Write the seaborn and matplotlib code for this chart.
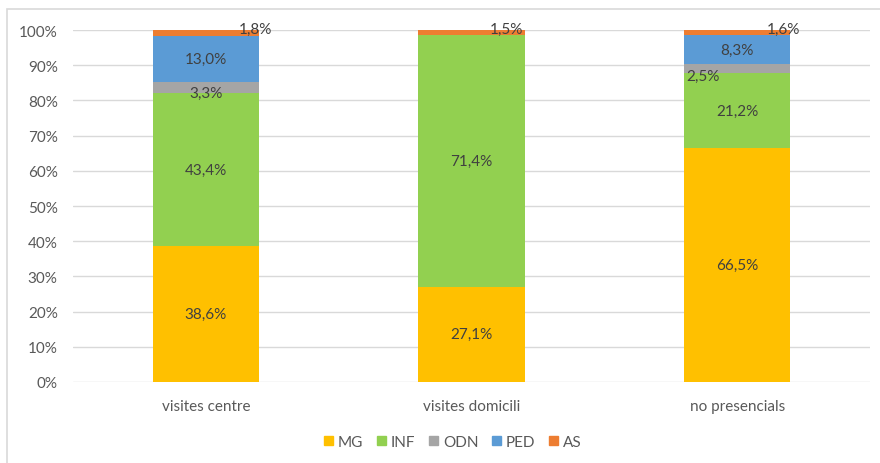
import numpy as np
import pandas as pd
import matplotlib
matplotlib.use("Agg")
import matplotlib.pyplot as plt
import seaborn as sns
from matplotlib.patches import Rectangle

# Dades (percentatges)
categories = ["visites centre", "visites domicili", "no presencials"]
series = ["MG", "INF", "ODN", "PED", "AS"]
mg = [38.6, 27.1, 66.5]
inf = [43.4, 71.4, 21.2]
odn = [3.3, 0.0, 2.5]
ped = [13.0, 0.0, 8.3]
as_ = [1.8, 1.5, 1.6]

colors = {"MG": "#FFC000", "INF": "#92D050", "ODN": "#A5A5A5",
          "PED": "#5B9BD5", "AS": "#ED7D31"}

sns.set_style("white")
plt.rcParams["font.family"] = ["Lato", "DejaVu Sans"]
TXT = "#595959"
LBL = "#404040"
FS = 11

df = pd.DataFrame({"cat": categories, "MG": mg, "INF": inf, "ODN": odn,
                   "PED": ped, "AS": as_})
cum = df[series].cumsum(axis=1)

fig = plt.figure(figsize=(8.8, 4.64), dpi=100)
ax = fig.add_axes([73 / 880, 1 - 383 / 464, (870 - 73) / 880, (383 - 31) / 464])

# barres apilades: es dibuixa el total acumulat de dalt a baix
for s in reversed(series):
    sns.barplot(x=df["cat"], y=cum[s], color=colors[s], width=0.4,
                saturation=1, linewidth=0, ax=ax, zorder=2)

ax.set_ylim(0, 100)
ax.set_xlim(-0.5, 2.5)
ax.set_yticks(np.arange(0, 101, 10))
ax.set_yticklabels([f"{v}%" for v in range(0, 101, 10)])
ax.yaxis.grid(True, color="#D9D9D9", linewidth=1)
ax.set_axisbelow(True)
for sp in ax.spines.values():
    sp.set_visible(False)
ax.tick_params(axis="both", length=0, colors=TXT, labelsize=FS)
ax.tick_params(axis="y", pad=11)
ax.tick_params(axis="x", pad=12)
ax.set_xlabel("")
ax.set_ylabel("")

# etiquetes de dades
offsets = {  # (dx en categories, dy en %)
    ("AS", 0): (0.185, 0.0), ("AS", 1): (0.13, 0.0), ("AS", 2): (0.175, 0.0),
    ("ODN", 0): (0.0, -1.5), ("ODN", 2): (-0.13, -2.0),
}
for i in range(len(categories)):
    base = 0.0
    for s in series:
        v = df[s][i]
        if v > 0:
            dx, dy = offsets.get((s, i), (0.0, 0.0))
            y = base + v / 2 + dy
            if s == "AS":
                y = 100.3
            ax.text(i + dx, y, f"{v:.1f}%".replace(".", ","), ha="center",
                    va="center", fontsize=FS, color=LBL, zorder=5)
        base += v

# llegenda
handles = [Rectangle((0, 0), 1, 1, color=colors[s]) for s in series]
fig.legend(handles, series, loc="center", bbox_to_anchor=(453 / 880, 1 - 443 / 464),
           ncol=5, frameon=False, fontsize=FS, handlelength=0.6,
           handleheight=0.6, handletextpad=0.3, columnspacing=0.9,
           labelcolor=TXT)

# vora del gràfic
fig.patches.append(Rectangle((7 / 880, -0.1), 1.2, 1 - 10 / 464 + 0.1,
                             transform=fig.transFigure, fill=False,
                             edgecolor="#D9D9D9", linewidth=1.2))

fig.savefig("out.png", dpi=100)
